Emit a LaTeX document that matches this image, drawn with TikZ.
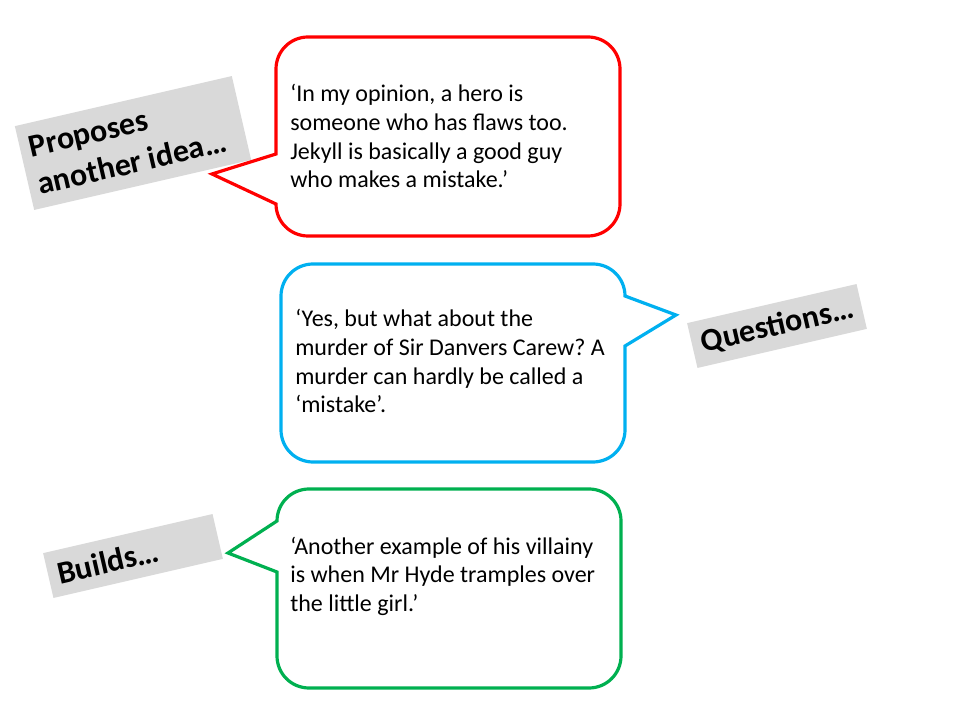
\documentclass[tikz,border=0pt]{standalone}
\usepackage{fontspec}
\setmainfont{Carlito}
\frenchspacing
\definecolor{BubbleRed}{HTML}{FF0000}
\definecolor{BubbleBlue}{HTML}{00B0F0}
\definecolor{BubbleGreen}{HTML}{00B050}
\definecolor{TagGrey}{HTML}{D9D9D9}
\tikzset{
  bubble/.style={line width=2.4pt, fill=white, line join=miter},
  speech/.style={anchor=base west, inner sep=0pt, text width=250pt, align=flush left, font=\fontsize{18}{21.5}\selectfont},
  tag/.style={rectangle, fill=TagGrey, rotate=13, inner xsep=7.2pt, inner ysep=3.6pt, align=flush left, font=\fontsize{24}{29}\selectfont\bfseries}
}

\begin{document}
\begin{tikzpicture}[x=0.75pt, y=-0.75pt]
            \useasboundingbox (0,0) rectangle (965,720);
            \node (propose) [tag, text width=152.6pt, minimum height=64.5pt] at (133,143) {Proposes\\another idea…};
            \node (question) [tag, text width=116pt, minimum height=34.5pt] at (777,326) {Questions…};
            \node (build) [tag, text width=116pt, minimum height=34.5pt] at (133,556) {Builds…};
            \coordinate (proposeTip) at (212,174);
            \coordinate (questionTip) at (676,315);
            \coordinate (buildTip) at (228,553);
            \draw [bubble, draw=BubbleRed] (276,154) -- (276,69) arc (180:270:32) -- (588,37) arc (270:360:32) -- (620,204) arc (0:90:32) -- (308,236) arc (90:180:32) -- (proposeTip) -- cycle;
            \draw [bubble, draw=BubbleBlue] (625,346) -- (625,430) arc (0:90:32) -- (313,462) arc (90:180:32) -- (281,296) arc (180:270:32) -- (593,264) arc (270:360:32) -- (questionTip) -- cycle;
            \draw [bubble, draw=BubbleGreen] (277,572) -- (277,656) arc (180:90:32) -- (589,688) arc (90:0:32) -- (621,521) arc (0:-90:32) -- (309,489) arc (270:180:32) -- (buildTip) -- cycle;
            \node (opinion) [speech] at (290,102) {‘In my opinion, a hero is\\someone who has flaws too.\\Jekyll is basically a good guy\\who makes a mistake.’};
            \node (doubt) [speech] at (295,327) {‘Yes, but what about the\\murder of Sir Danvers Carew? A\\murder can hardly be called a\\‘mistake’.};
            \node (villainy) [speech] at (290,554) {‘Another example of his villainy\\is when Mr Hyde tramples over\\the little girl.’};
        \end{tikzpicture}
\end{document}
